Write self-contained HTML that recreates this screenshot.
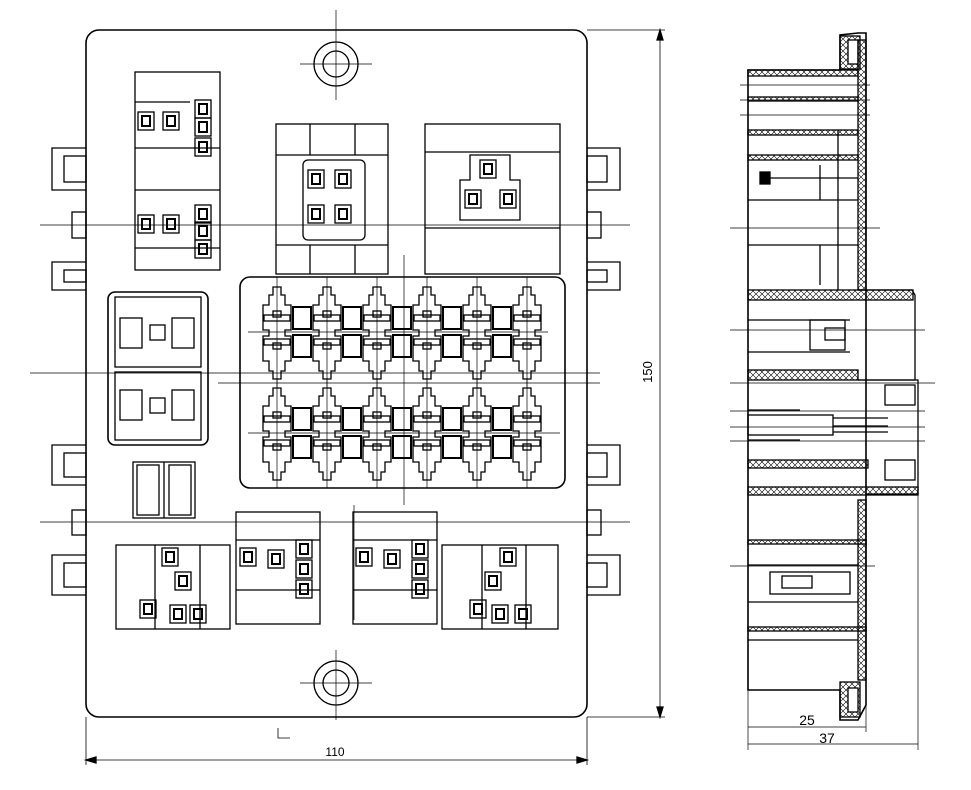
<!DOCTYPE html>
<html><head><meta charset="utf-8"><style>
html,body{margin:0;padding:0;background:#fff;}
svg{display:block;}
text{font-family:"Liberation Sans",sans-serif;fill:#000;}
</style></head><body>
<svg id="s" width="971" height="790" viewBox="0 0 971 790" xmlns="http://www.w3.org/2000/svg" fill="none" stroke="#000" stroke-width="1.3">
<defs>
<pattern id="h" width="6" height="6" patternUnits="userSpaceOnUse"><path d="M0 0L6 6M6 0L0 6" stroke="#000" stroke-width="0.6"/></pattern>
</defs>
<rect x="86" y="30" width="501" height="687" rx="13" stroke-width="1.6"/>
<circle cx="336" cy="64" r="22"/><circle cx="336" cy="64" r="13"/>
<circle cx="336" cy="683" r="22"/><circle cx="336" cy="683" r="13"/>
<g stroke-width="0.7">
<line x1="300" y1="64" x2="372" y2="64"/><line x1="336" y1="10" x2="336" y2="100"/>
<line x1="300" y1="683" x2="372" y2="683"/><line x1="336" y1="650" x2="336" y2="720"/>
<line x1="30" y1="373" x2="600" y2="373"/><line x1="218" y1="383" x2="600" y2="383"/>
<line x1="40" y1="225" x2="630" y2="225"/><line x1="40" y1="522" x2="630" y2="522"/>
<line x1="404" y1="255" x2="404" y2="505"/><line x1="354" y1="505" x2="354" y2="620"/>
</g>
<g id="tabs"></g>
<g stroke-width="0.8">
<line x1="587" y1="30" x2="665" y2="30"/><line x1="587" y1="717" x2="665" y2="717"/>
<line x1="660" y1="30" x2="660" y2="717"/>
<line x1="86" y1="717" x2="86" y2="765"/><line x1="587" y1="717" x2="587" y2="765"/>
<line x1="86" y1="760" x2="587" y2="760"/>
<path d="M278 728v10h12"/>
</g>
<path d="M660 30l-3 10h6zM660 717l-3-10h6zM86 760l10-3v6zM587 760l-10-3v6z" fill="#000"/>
<text x="652" y="372" font-size="13" transform="rotate(-90 652 372)" text-anchor="middle" stroke="none">150</text>
<text x="335" y="756" font-size="12" text-anchor="middle" stroke="none">110</text>

<rect x="276" y="124" width="112" height="150"/>
<line x1="276" y1="155" x2="388" y2="155"/><line x1="310" y1="124" x2="310" y2="155"/><line x1="355" y1="124" x2="355" y2="155"/>
<line x1="276" y1="245" x2="388" y2="245"/><line x1="310" y1="245" x2="310" y2="274"/><line x1="355" y1="245" x2="355" y2="274"/>
<rect x="303" y="160" width="62" height="80" rx="5"/>
<rect x="425" y="124" width="135" height="150"/>
<line x1="425" y1="152" x2="560" y2="152"/><line x1="425" y1="228" x2="560" y2="228"/>
<path d="M470 155h40v25h10v40h-60v-40h10z"/>
<rect x="240" y="277" width="325" height="211" rx="10" stroke-width="1.6"/>
<g id="fuses"></g>
<g id="left"></g>
<rect x="108" y="292" width="100" height="153" rx="7" stroke-width="1.6"/>
<rect x="115" y="297" width="86" height="70"/><rect x="115" y="372" width="86" height="68"/>
<rect x="133" y="462" width="62" height="56"/><line x1="164" y1="462" x2="164" y2="518"/>
<rect x="137" y="465" width="22" height="50"/><rect x="169" y="465" width="22" height="50"/>
<rect x="116" y="545" width="114" height="84"/><line x1="155" y1="545" x2="155" y2="629"/><line x1="200" y1="545" x2="200" y2="629"/>
<rect x="236" y="512" width="84" height="112"/><line x1="236" y1="540" x2="320" y2="540"/><line x1="236" y1="590" x2="320" y2="590"/>
<rect x="353" y="512" width="84" height="112"/><line x1="353" y1="540" x2="437" y2="540"/><line x1="353" y1="590" x2="437" y2="590"/>
<rect x="442" y="545" width="116" height="84"/><line x1="482" y1="545" x2="482" y2="629"/><line x1="526" y1="545" x2="526" y2="629"/>

<g id="side">
<path d="M748 70H840V35L858 33H866V705L858 720H840V690H748Z" stroke-width="1.6"/>
<rect x="840" y="36" width="20" height="33" fill="url(#h)"/>
<rect x="848" y="40" width="10" height="24" fill="#fff"/>
<rect x="840" y="682" width="20" height="35" fill="url(#h)"/>
<rect x="848" y="688" width="10" height="24" fill="#fff"/>
<rect x="858" y="40" width="8" height="250" fill="url(#h)"/>
<rect x="858" y="500" width="8" height="180" fill="url(#h)"/>
<rect x="748" y="70" width="110" height="6" fill="url(#h)"/>
<rect x="748" y="97" width="110" height="4" fill="url(#h)"/>
<rect x="748" y="130" width="110" height="5" fill="url(#h)"/>
<rect x="748" y="155" width="110" height="5" fill="url(#h)"/>
<rect x="748" y="290" width="165" height="10" fill="url(#h)"/>
<rect x="748" y="370" width="110" height="10" fill="url(#h)"/>
<rect x="748" y="460" width="120" height="8" fill="url(#h)"/>
<rect x="748" y="487" width="170" height="8" fill="url(#h)"/>
<rect x="748" y="540" width="118" height="4" fill="url(#h)"/>
<rect x="748" y="627" width="118" height="4" fill="url(#h)"/>
<path d="M858 290H912L915 295V380H858" />
<path d="M858 380H918V494H866"/>
<rect x="885" y="385" width="30" height="20"/><rect x="885" y="460" width="30" height="20"/>
<line x1="748" y1="200" x2="858" y2="200"/><line x1="838" y1="130" x2="838" y2="290"/>
<line x1="748" y1="245" x2="858" y2="245"/><line x1="820" y1="165" x2="820" y2="200"/><line x1="820" y1="245" x2="820" y2="285"/>
<rect x="760" y="172" width="10" height="12" fill="#000"/><line x1="770" y1="178" x2="858" y2="178"/>
<line x1="748" y1="320" x2="850" y2="320"/><line x1="748" y1="352" x2="850" y2="352"/>
<rect x="810" y="320" width="35" height="30"/><rect x="825" y="328" width="20" height="12"/>
<line x1="748" y1="410" x2="800" y2="410"/><line x1="748" y1="440" x2="800" y2="440"/>
<rect x="748" y="415" width="85" height="20"/><line x1="833" y1="418" x2="888" y2="418"/><line x1="833" y1="426" x2="888" y2="426"/><line x1="833" y1="432" x2="888" y2="432"/>
<line x1="748" y1="565" x2="858" y2="565"/><line x1="748" y1="602" x2="858" y2="602"/>
<rect x="770" y="572" width="80" height="22"/><rect x="782" y="576" width="30" height="12"/>
<line x1="748" y1="640" x2="858" y2="640"/>
</g>
<g stroke-width="0.7">
<line x1="748" y1="690" x2="748" y2="750"/><line x1="866" y1="705" x2="866" y2="732"/><line x1="918" y1="494" x2="918" y2="750"/>
<line x1="748" y1="727" x2="866" y2="727"/><line x1="748" y1="744" x2="918" y2="744"/>
<line x1="730" y1="228" x2="880" y2="228"/><line x1="730" y1="330" x2="925" y2="330"/><line x1="730" y1="383" x2="935" y2="383"/>
<line x1="730" y1="411" x2="925" y2="411"/><line x1="730" y1="427" x2="925" y2="427"/><line x1="730" y1="441" x2="925" y2="441"/>
<line x1="730" y1="566" x2="875" y2="566"/><line x1="740" y1="85" x2="870" y2="85"/><line x1="740" y1="100" x2="870" y2="100"/><line x1="740" y1="115" x2="870" y2="115"/>
</g>
<text x="807" y="725" font-size="14" text-anchor="middle" stroke="none">25</text>
<text x="827" y="743" font-size="14" text-anchor="middle" stroke="none">37</text>
</svg>
<script>
var NS="http://www.w3.org/2000/svg";
function el(p,t,a){var e=document.createElementNS(NS,t);for(var k in a)e.setAttribute(k,a[k]);p.appendChild(e);return e;}
var F=document.getElementById("fuses");
function fuse(cx,y){
 var d="M"+(cx-4)+" "+y+"h8v8h4v10h6v25h-6v6h6v25h-6v10h-4v8h-8v-8h-4v-10h-6v-25h6v-6h-6v-25h6v-10h4z";
 el(F,"path",{d:d});
 el(F,"rect",{x:cx-13,y:y+28,width:26,height:6});el(F,"rect",{x:cx-13,y:y+52,width:26,height:6});
 el(F,"rect",{x:cx-4,y:y+24,width:8,height:6});el(F,"rect",{x:cx-4,y:y+56,width:8,height:6});
 el(F,"line",{x1:cx,y1:y-10,x2:cx,y2:y+100,"stroke-width":0.7});
}
function box(cx,y){el(F,"rect",{x:cx-9,y:y,width:18,height:22,"stroke-width":2});el(F,"rect",{x:cx-9,y:y+28,width:18,height:22,"stroke-width":2});}
[277,327,377,427,477,527].forEach(function(c){fuse(c,287);fuse(c,388);});
[302,352,402,452,502].forEach(function(c){box(c,307);box(c,408);});
el(F,"line",{x1:248,y1:332,x2:548,y2:332,"stroke-width":0.7});el(F,"line",{x1:248,y1:433,x2:560,y2:433,"stroke-width":0.7});
var L=document.getElementById("left");
function small(g,x,y){el(g,"rect",{x:x,y:y,width:16,height:18});el(g,"rect",{x:x+4,y:y+4,width:8,height:10,"stroke-width":2});}
el(L,"rect",{x:135,y:72,width:85,height:198});
el(L,"line",{x1:135,y1:102,x2:190,y2:102});el(L,"line",{x1:135,y1:148,x2:220,y2:148});el(L,"line",{x1:135,y1:190,x2:220,y2:190});el(L,"line",{x1:135,y1:248,x2:220,y2:248});
[[138,112],[163,112],[195,100],[195,118],[195,138],[138,215],[163,215],[195,205],[195,222],[195,240]].forEach(function(p){small(L,p[0],p[1]);});
[[308,170],[335,170],[308,205],[335,205],[480,160],[465,190],[500,190],[162,548],[175,572],[140,600],[170,605],[190,605],[240,548],[268,550],[296,540],[296,560],[296,580],[356,548],[384,550],[412,540],[412,560],[412,580],[500,548],[485,572],[470,600],[492,605],[515,605]].forEach(function(p){small(L,p[0],p[1]);});
el(L,"rect",{x:120,y:318,width:22,height:30});el(L,"rect",{x:172,y:318,width:22,height:30});
el(L,"rect",{x:120,y:390,width:22,height:30});el(L,"rect",{x:172,y:390,width:22,height:30});
el(L,"rect",{x:150,y:325,width:15,height:15});el(L,"rect",{x:150,y:398,width:15,height:15});
var T=document.getElementById("tabs");
[[148,190],[262,290],[445,485],[555,595]].forEach(function(r){
 el(T,"path",{d:"M86 "+r[0]+"H52V"+r[1]+"H86"});el(T,"rect",{x:64,y:r[0]+8,width:22,height:r[1]-r[0]-16});
 el(T,"path",{d:"M587 "+r[0]+"H620V"+r[1]+"H587"});el(T,"rect",{x:587,y:r[0]+8,width:20,height:r[1]-r[0]-16});
});
[[212,238],[510,535]].forEach(function(r){el(T,"rect",{x:72,y:r[0],width:14,height:r[1]-r[0]});el(T,"rect",{x:587,y:r[0],width:14,height:r[1]-r[0]});});
</script>
</body></html>
